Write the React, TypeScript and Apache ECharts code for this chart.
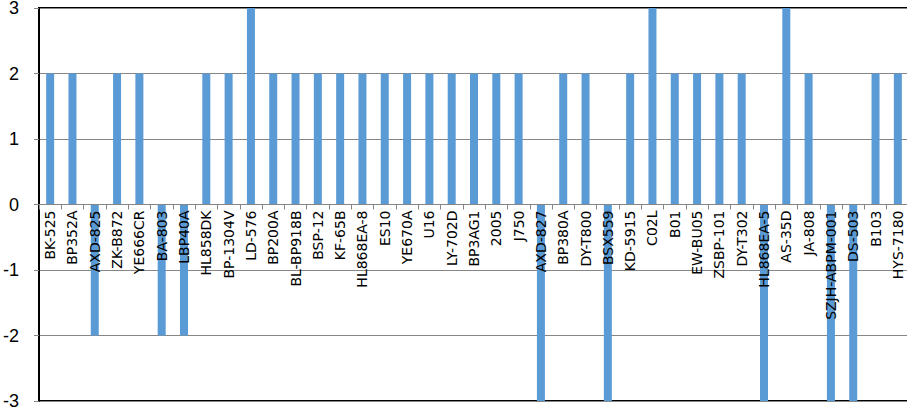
import React, { useEffect, useRef } from "react";
import * as echarts from "echarts";

const categories = [
  "BK-525", "BP352A", "AXD-825", "ZK-B872", "YE666CR", "BA-803", "LBP40A", "HL858DK",
  "BP-1304V", "LD-576", "BP200A", "BL-BP918B", "BSP-12", "KF-65B", "HL868EA-8", "ES10",
  "YE670A", "U16", "LY-702D", "BP3AG1", "2005", "J750", "AXD-827", "BP380A", "DY-T800",
  "BSX559", "KD-5915", "C02L", "B01", "EW-BU05", "ZSBP-101", "DY-T302", "HL868EA-5",
  "AS-35D", "JA-808", "SZJH-ABPM-001", "DS-503", "B103", "HYS-7180",
];

const values = [
  2, 2, -2, 2, 2, -2, -2, 2,
  2, 3, 2, 2, 2, 2, 2, 2,
  2, 2, 2, 2, 2, 2, -3, 2, 2,
  -3, 2, 3, 2, 2, 2, 2, -3,
  3, 2, -3, -3, 2, 2,
];

const yMin = -3;
const yMax = 3;
const yInterval = 1;

const GRID_TOP = 8;
const GRID_BOTTOM = 8;
const HEIGHT = 409;

export default function App() {
  const ref = useRef<HTMLDivElement>(null);
  useEffect(() => {
    if (!ref.current) return;
    const chart = echarts.init(ref.current, undefined, { renderer: "svg" });
    const plotH = HEIGHT - GRID_TOP - GRID_BOTTOM;
    const zeroOffset = -plotH * ((0 - yMin) / (yMax - yMin));
    chart.setOption({
      animation: false,
      backgroundColor: "#ffffff",
      grid: {
        left: 39,
        right: -2,
        top: GRID_TOP,
        bottom: GRID_BOTTOM,
        show: true,
        borderColor: "#000000",
        borderWidth: 2,
        containLabel: false,
        outerBoundsMode: "none",
      },
      xAxis: {
        type: "category",
        data: categories,
        z: 10,
        position: "bottom",
        offset: zeroOffset,
        axisLine: { onZero: false, lineStyle: { color: "#868686", width: 1 } },
        axisTick: { show: true, length: 5, lineStyle: { color: "#868686" } },
        axisLabel: {
          rotate: 90,
          interval: 0,
          margin: 6,
          fontFamily: "DejaVu Sans",
          fontSize: 14,
          color: "#000000",
        },
        splitLine: { show: false },
      },
      yAxis: {
        type: "value",
        min: yMin,
        max: yMax,
        interval: yInterval,
        axisLine: { show: true, lineStyle: { color: "#000000", width: 2 } },
        axisTick: { show: true, length: 5, lineStyle: { color: "#868686" } },
        axisLabel: {
          margin: 20,
          fontFamily: "Liberation Sans",
          fontSize: 18,
          color: "#000000",
        },
        splitLine: { show: true, lineStyle: { color: "#868686", width: 1 } },
      },
      series: [
        {
          type: "bar",
          data: values,
          barWidth: 8,
          itemStyle: { color: "#5B9BD5" },
          z: 2,
        },
      ],
    });
    return () => chart.dispose();
  }, []);
  return (
    <div
      ref={ref}
      style={{ position: "fixed", left: 0, top: 0, width: 907, height: 409 }}
    />
  );
}
